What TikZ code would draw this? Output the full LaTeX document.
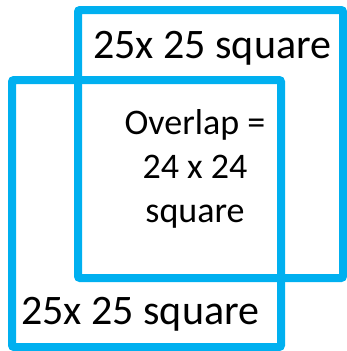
\documentclass[tikz,border=0pt]{standalone}
\usepackage{fontspec}
\setmainfont{Carlito}
\definecolor{sqblue}{HTML}{00B0F0}
\begin{document}
\begin{tikzpicture}[
    x=1pt, y=-1pt,
    sqline/.style={draw=sqblue, line width=8pt, rounded corners=2pt},
    label/.style={font=\fontsize{42}{38.5}\selectfont, inner sep=0pt}
  ]
    \useasboundingbox (0, 0) rectangle (347, 351);

    % --- quadrato in alto a destra ---
    \draw[sqline] (78, 10) rectangle (343, 278);
    % --- quadrato in basso a sinistra ---
    \draw[sqline] (12, 80) rectangle (281, 347);

    % Etichette
    \node[label, anchor=base west] (topsq) at (93, 58) {25x 25 square};
    \node[label, anchor=base west] (botsq) at (21, 324) {25x 25 square};
    \node[label, font=\fontsize{36}{44}\selectfont, align=center] (overlap) at (195, 169) {Overlap =\\24 x 24\\square};
  \end{tikzpicture}
\end{document}
